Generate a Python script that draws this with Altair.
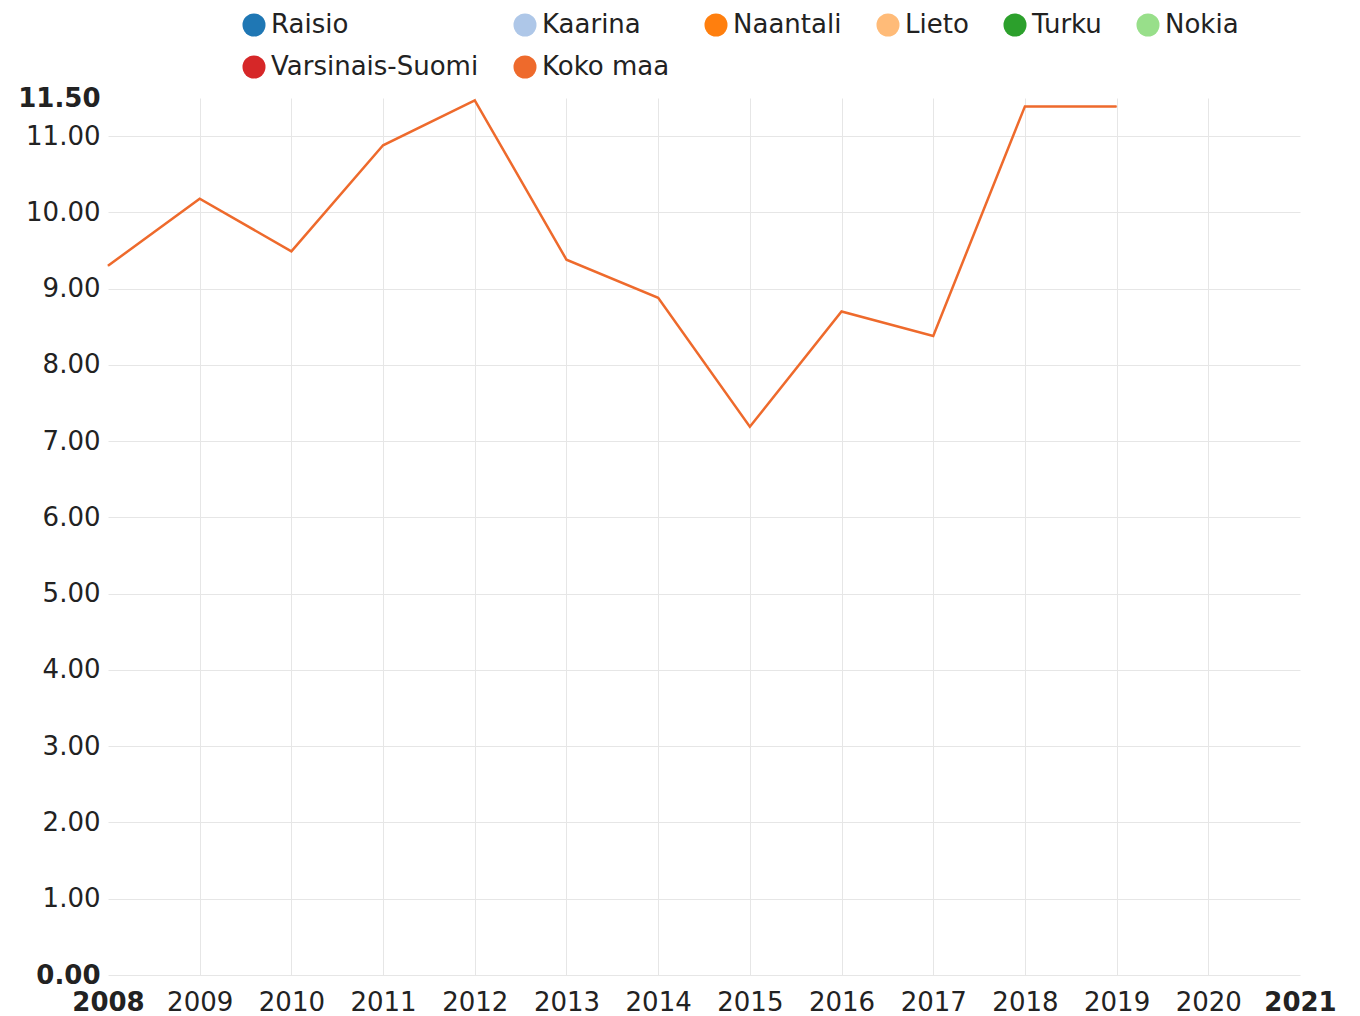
import altair as alt
import pandas as pd

series_names = ["Raisio", "Kaarina", "Naantali", "Lieto", "Turku", "Nokia",
                "Varsinais-Suomi", "Koko maa"]
series_colors = ["#1f77b4", "#aec7e8", "#ff7f0e", "#ffbb78", "#2ca02c", "#98df8a",
                 "#d62728", "#ee6a2c"]

years = [2008, 2009, 2010, 2011, 2012, 2013, 2014, 2015, 2016, 2017, 2018, 2019]
koko_maa = [9.30, 10.18, 9.49, 10.88, 11.47, 9.38, 8.88, 7.19, 8.70, 8.38, 11.39, 11.39]

x_ticks = list(range(2008, 2022))
y_ticks = [0, 1, 2, 3, 4, 5, 6, 7, 8, 9, 10, 11, 11.5]

df = pd.DataFrame({"year": years, "value": koko_maa, "series": ["Koko maa"] * len(years)})

FONT = "DejaVu Sans"
FS = 26

x_enc = alt.X("year:Q",
              scale=alt.Scale(domain=[2008, 2021], nice=False, zero=False),
              axis=alt.Axis(values=x_ticks, format="d", title=None, domain=False, ticks=False,
                            labelFlush=False, labelPadding=14, labelFontSize=FS,
                            labelFont=FONT, labelColor="#222",
                            labelFontWeight=alt.expr("datum.value == 2008 || datum.value == 2021 ? 'bold' : 'normal'"),
                            gridColor="#e6e6e6",
                            gridOpacity=alt.expr("datum.value == 2008 || datum.value == 2021 ? 0 : 1")))
y_enc = alt.Y("value:Q",
              scale=alt.Scale(domain=[0, 11.5], nice=False),
              axis=alt.Axis(values=y_ticks, format=".2f", title=None, domain=False, ticks=False,
                            labelPadding=8, labelFontSize=FS, labelFont=FONT, labelColor="#222",
                            labelFontWeight=alt.expr("datum.value == 0 || datum.value == 11.5 ? 'bold' : 'normal'"),
                            gridColor="#e6e6e6",
                            gridOpacity=alt.expr("datum.value == 11.5 ? 0 : 1")))

color_enc = alt.Color("series:N",
                      scale=alt.Scale(domain=series_names, range=series_colors),
                      legend=alt.Legend(title=None, orient="none", legendX=133, legendY=-86,
                                        direction="horizontal", columns=6, columnPadding=33,
                                        rowPadding=16, symbolType="circle", symbolSize=530,
                                        symbolStrokeWidth=0, symbolOpacity=1,
                                        labelFontSize=FS, labelFont=FONT, labelColor="#222",
                                        labelOffset=4, labelLimit=400))

legend_pts = alt.Chart(df).mark_point(filled=True, size=1).encode(
    x=x_enc, y=y_enc, color=color_enc,
)

lines = alt.Chart(df).mark_line(strokeWidth=2.5).encode(
    x=x_enc, y=y_enc, color=color_enc,
)

chart = alt.layer(legend_pts, lines).properties(
    width=1192, height=877,
    autosize=alt.AutoSizeParams(type="none"),
    padding={"left": 100, "top": 90, "right": 50, "bottom": 40},
).configure_view(stroke=None)

chart.save("out.html", embed_options={"renderer": "svg", "actions": False})
